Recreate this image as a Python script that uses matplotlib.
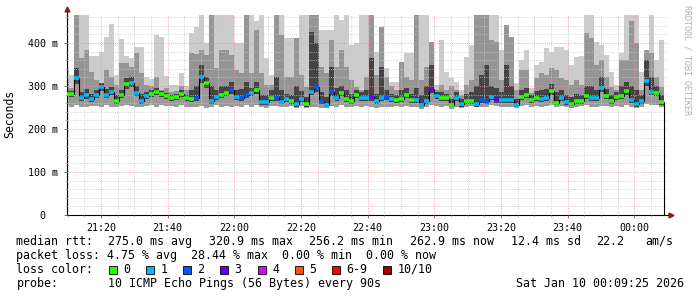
import numpy as np
import matplotlib
matplotlib.use("Agg")
import matplotlib.pyplot as plt
from matplotlib.patches import Rectangle

# one step every 90 s, first step starts 21:09:00 (x axis = minutes after 21:00)
step_start = 9.0
step_len = 1.5

median_ms = [281, 281, 318, 272, 278, 270, 280, 298, 280, 287,
             266, 278, 304, 308, 284, 265, 277, 281, 287, 281,
             276, 273, 275, 281, 272, 270, 272, 320, 306, 264,
             274, 278, 283, 290, 275, 271, 280, 284, 291, 262,
             263, 272, 271, 263, 269, 265, 258, 270, 257, 287,
             297, 263, 256, 285, 273, 283, 270, 266, 278, 272,
             271, 275, 264, 271, 274, 269, 267, 270, 279, 268,
             268, 256, 266, 294, 276, 271, 271, 256, 272, 258,
             265, 265, 258, 267, 266, 274, 269, 267, 267, 267,
             256, 275, 278, 268, 273, 269, 272, 288, 261, 273,
             262, 259, 265, 265, 277, 273, 271, 295, 276, 264,
             275, 277, 288, 267, 258, 265, 312, 286, 284, 263]

lost_pings = [0, 0, 1, 1, 1, 1, 1, 1, 1, 1,
              0, 0, 0, 1, 1, 1, 1, 0, 0, 0,
              0, 0, 0, 0, 0, 0, 2, 1, 0, 1,
              1, 0, 0, 2, 1, 2, 2, 1, 0, 1,
              1, 0, 2, 1, 1, 0, 1, 1, 0, 1,
              2, 2, 1, 2, 1, 0, 0, 0, 0, 1,
              1, 3, 1, 1, 2, 1, 0, 0, 0, 0,
              1, 1, 1, 3, 1, 0, 0, 0, 1, 1,
              0, 0, 1, 2, 2, 1, 3, 1, 1, 1,
              1, 0, 0, 0, 0, 1, 1, 0, 0, 1,
              1, 0, 0, 0, 0, 1, 1, 1, 0, 0,
              0, 0, 0, 1, 1, 1, 1, 1, 0, 0]

# smoke: fastest ping, edge of dark band below median, dark band top,
# mid-grey top, slowest ping (clipped at graph top)
lo_ms = [255, 252, 256, 250, 252, 254, 253, 252, 255, 251,
         250, 254, 256, 254, 252, 250, 253, 255, 252, 256,
         254, 253, 252, 255, 252, 251, 250, 253, 248, 252,
         255, 252, 254, 250, 253, 252, 255, 252, 256, 250,
         249, 254, 253, 252, 250, 253, 249, 254, 248, 252,
         250, 248, 249, 253, 250, 255, 252, 251, 254, 252,
         253, 250, 248, 252, 251, 252, 253, 250, 254, 252,
         250, 247, 252, 255, 253, 251, 254, 247, 252, 249,
         251, 253, 250, 252, 251, 255, 253, 252, 250, 251,
         248, 254, 255, 252, 253, 251, 253, 256, 250, 254,
         250, 248, 252, 253, 255, 252, 251, 254, 253, 250,
         254, 252, 256, 250, 248, 251, 259, 255, 256, 250]

lo_dark_ms = [274, 274, 305, 265, 270, 263, 272, 288, 272, 279,
              259, 271, 294, 298, 276, 258, 270, 274, 279, 274,
              269, 266, 268, 274, 265, 263, 265, 306, 296, 257,
              267, 271, 276, 282, 268, 264, 272, 276, 282, 256,
              256, 265, 264, 257, 262, 258, 252, 263, 251, 278,
              286, 257, 250, 276, 266, 276, 263, 259, 271, 265,
              264, 266, 257, 264, 267, 262, 260, 263, 272, 261,
              261, 250, 259, 283, 269, 264, 264, 250, 265, 252,
              258, 258, 252, 260, 259, 267, 261, 260, 260, 260,
              250, 268, 271, 261, 266, 262, 265, 280, 255, 266,
              256, 253, 258, 258, 270, 266, 264, 285, 269, 257,
              268, 270, 280, 260, 252, 258, 300, 278, 277, 256]

hi_dark_ms = [290, 288, 341, 285, 292, 282, 290, 306, 292, 298,
              278, 290, 318, 322, 300, 282, 287, 290, 296, 288,
              284, 280, 282, 290, 280, 290, 300, 349, 320, 300,
              290, 300, 300, 310, 290, 292, 310, 295, 310, 280,
              280, 290, 322, 290, 282, 280, 300, 288, 275, 426,
              400, 285, 275, 345, 295, 300, 290, 282, 290, 285,
              290, 364, 282, 345, 290, 282, 280, 290, 295, 282,
              295, 280, 300, 349, 285, 285, 282, 270, 285, 270,
              282, 285, 300, 326, 349, 300, 295, 285, 349, 300,
              270, 290, 295, 278, 288, 290, 292, 305, 285, 290,
              280, 275, 282, 280, 300, 300, 290, 322, 292, 278,
              285, 300, 310, 300, 290, 280, 360, 320, 300, 280]

hi_mid_ms = [317, 296, 465, 364, 384, 333, 314, 306, 336, 322,
             302, 353, 353, 345, 376, 329, 302, 300, 320, 291,
             295, 285, 288, 300, 290, 376, 374, 384, 372, 465,
             341, 384, 384, 372, 337, 331, 465, 331, 430, 331,
             302, 302, 465, 419, 322, 322, 412, 326, 298, 465,
             465, 345, 331, 407, 345, 384, 345, 314, 298, 291,
             322, 465, 326, 438, 322, 299, 291, 356, 322, 314,
             465, 314, 345, 403, 290, 302, 291, 299, 291, 280,
             302, 314, 465, 465, 465, 407, 403, 314, 442, 415,
             290, 337, 337, 284, 318, 331, 326, 341, 337, 318,
             314, 302, 314, 302, 424, 412, 349, 360, 322, 298,
             290, 360, 360, 450, 399, 291, 384, 376, 322, 298]

hi_max_ms = [341, 325, 465, 465, 465, 370, 370, 378, 415, 444,
             326, 409, 370, 364, 391, 391, 322, 316, 419, 415,
             323, 302, 302, 331, 300, 423, 437, 465, 400, 465,
             465, 465, 465, 465, 400, 400, 465, 465, 450, 465,
             364, 326, 465, 465, 412, 412, 412, 465, 465, 465,
             465, 430, 430, 430, 465, 454, 465, 395, 399, 465,
             465, 465, 380, 438, 341, 310, 310, 356, 376, 376,
             465, 465, 465, 403, 302, 407, 333, 318, 310, 291,
             368, 395, 465, 465, 465, 465, 465, 384, 442, 415,
             307, 360, 384, 295, 349, 356, 388, 380, 391, 391,
             384, 349, 368, 370, 465, 465, 403, 395, 372, 333,
             302, 376, 465, 465, 465, 333, 384, 465, 360, 407]

legend_labels = ["0", "1", "2", "3", "4", "5", "6-9", "10/10"]
legend_colors = ["#26ff00", "#00b8ff", "#0059ff", "#5e00ff",
                 "#dd00ff", "#ff5500", "#ff0000", "#a10000"]

xtick_min = [20, 40, 60, 80, 100, 120, 140, 160, 180]
xtick_labels = ["21:20", "21:40", "22:00", "22:20", "22:40",
                "23:00", "23:20", "23:40", "00:00"]
ytick_vals = [0, 100, 200, 300, 400]
ytick_labels = ["0  ", "100 m", "200 m", "300 m", "400 m"]

W, H = 697, 297
MONO = "DejaVu Sans Mono"
plt.rcParams["font.family"] = MONO


def loss_color(n):
    if n >= 10:
        return legend_colors[7]
    if n >= 6:
        return legend_colors[6]
    return legend_colors[n]


def fx(x):
    return x / W


def fy(y):
    return 1 - y / H


fig = plt.figure(figsize=(W / 100, H / 100), dpi=100)
ax = fig.add_axes([fx(67), fy(215), 600 / W, 200 / H])

n = len(median_ms)
edges = step_start + step_len * np.arange(n + 1)
med = np.array(median_ms, dtype=float)

# smoke layers, lightest outside, darkest around the median
ax.stairs(lo_dark_ms, edges, baseline=lo_ms, fill=True, color="#9a9a9a", lw=0, zorder=1)
ax.stairs(med, edges, baseline=lo_dark_ms, fill=True, color="#444444", lw=0, zorder=1)
ax.stairs(hi_dark_ms, edges, baseline=med, fill=True, color="#444444", lw=0, zorder=1)
ax.stairs(hi_mid_ms, edges, baseline=hi_dark_ms, fill=True, color="#959595", lw=0, zorder=1)
ax.stairs(hi_max_ms, edges, baseline=hi_mid_ms, fill=True, color="#cccccc", lw=0, zorder=1)

# median line: thin black steps plus a coloured bar per step
ax.stairs(med, edges, color="black", lw=0.8, zorder=3)
ax.hlines(med, edges[:-1], edges[1:], colors=[loss_color(v) for v in lost_pings],
          lw=2.6, zorder=4)

ax.set_xlim(9.8, 189.8)
ax.set_ylim(0, 465)

ax.set_xticks(xtick_min, xtick_labels)
ax.set_xticks(np.arange(10, 190, 5), minor=True)
ax.set_yticks(ytick_vals, ytick_labels)
ax.set_yticks(np.arange(0, 465, 20), minor=True)
ax.tick_params(axis="both", which="major", labelsize=7.2, length=2.5, width=0.7,
               color="#777777", pad=3)
ax.tick_params(axis="both", which="minor", length=1.5, width=0.5, color="#aaaaaa")
ax.tick_params(axis="y", pad=4)

ax.set_axisbelow(False)
ax.grid(which="minor", color="#c8c8c8", lw=0.72, dashes=(0.72, 1.44))
ax.grid(which="major", color="#e09a9a", lw=0.72, dashes=(0.72, 1.44))

for s in ("top", "right"):
    ax.spines[s].set_visible(False)
ax.spines["left"].set_color("black")
ax.spines["bottom"].set_color("black")
ax.spines["left"].set_linewidth(0.8)
ax.spines["bottom"].set_linewidth(0.8)

# axis extensions with small dark red arrow heads
ax.plot([0, 0], [1, 1.03], color="black", lw=0.8, transform=ax.transAxes, clip_on=False)
ax.plot([1, 1.004], [0, 0], color="black", lw=0.8, transform=ax.transAxes, clip_on=False)
ax.plot(0, 1.03, marker="^", color="#8b1a1a", ms=3.5, transform=ax.transAxes, clip_on=False)
ax.plot(1.006, 0, marker=">", color="#8b1a1a", ms=3.5, transform=ax.transAxes, clip_on=False)

fig.text(fx(10), fy(114), "Seconds", rotation=90, ha="center", va="center", fontsize=8.3)
fig.text(fx(687), fy(60), "RRDTOOL / TOBI OETIKER", rotation=270, ha="center",
         va="center", fontsize=6, color="#b0b0b0")

FS = 8.4
rows = [241.5, 255.5, 269.5, 283.5]
txt = [
    (16.5, rows[0], "median rtt:"), (108, rows[0], "275.0 ms avg"),
    (209, rows[0], "320.9 ms max"), (309, rows[0], "256.2 ms min"),
    (410, rows[0], "262.9 ms now"), (510.7, rows[0], "12.4 ms sd"),
    (596.5, rows[0], "22.2"), (645.6, rows[0], "am/s"),
    (16.5, rows[1], "packet loss: 4.75 % avg  28.44 % max  0.00 % min  0.00 % now"),
    (16.5, rows[2], "loss color:"),
    (16.5, rows[3], "probe:"), (108, rows[3], "10 ICMP Echo Pings (56 Bytes) every 90s"),
]
for x, y, s in txt:
    fig.text(fx(x), fy(y), s, ha="left", va="center", fontsize=FS)
fig.text(fx(683.6), fy(rows[3]), "Sat Jan 10 00:09:25 2026", ha="right", va="center", fontsize=FS)

box_x = [108.6, 146, 183, 220, 258, 295, 332, 383]
for bx, lab, col in zip(box_x, legend_labels, legend_colors):
    fig.patches.append(Rectangle((fx(bx), fy(rows[2] + 4)), 8 / W, 8 / H,
                                 transform=fig.transFigure, facecolor=col,
                                 edgecolor="black", lw=0.6))
    fig.text(fx(bx + 14.5), fy(rows[2]), lab, ha="left", va="center", fontsize=FS)

fig.savefig("out.png", dpi=100, facecolor="white")
